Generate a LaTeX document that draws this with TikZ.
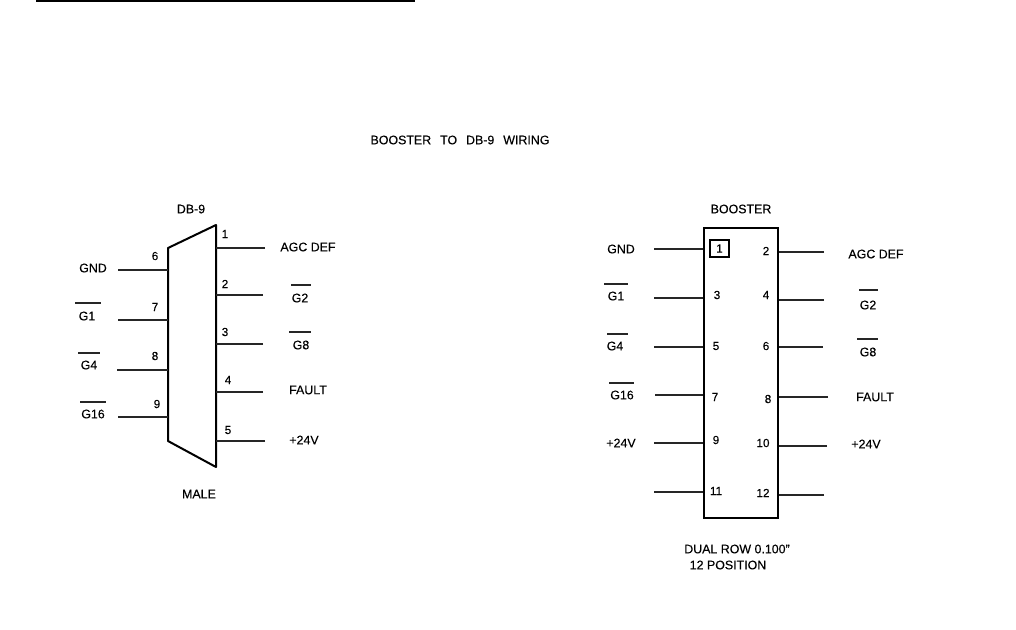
\documentclass[tikz,border=0pt]{standalone}
\usepackage{fontspec}
\setmainfont[FakeBold=0.25]{Liberation Sans}
\tikzset{
  lbl/.style={inner sep=0pt,font=\fontsize{9.3}{10}\selectfont},
  pinno/.style={inner sep=0pt,font=\fontsize{8.8}{10}\selectfont},
  wire/.style={line width=1.1pt,black!85},
  bar/.style={line width=0.9pt,black!85},
  body/.style={line width=1.5pt,black}
}
\begin{document}
\begin{tikzpicture}[x=0.75pt,y=-0.75pt]
  \useasboundingbox (0,0) rectangle (1016,629);

  % Rule at the top
  \coordinate (ruleL) at (36,1);
  \coordinate (ruleR) at (415,1);
  \draw[line width=1.5pt] (ruleL) -- (ruleR);

  % Title
  \node[lbl] (title) at (460,140) {BOOSTER\ \ \,TO\ \ \,DB-9\ \ \,WIRING};

  % DB-9 shell
  \draw[body,line join=round] (168,248) -- (216,225) -- (216,467) -- (168,441) -- cycle;
  \coordinate (dbL) at (168,300);
  \coordinate (dbR) at (216,300);
  \node[lbl] (dbname) at (191,209) {DB-9};
  \node[lbl] (dbmale) at (199,494) {MALE};

  % DB-9 wires
  \foreach \nm/\x/\y/\w in {a6/118/270/1.6pt,a7/118/320/1.2pt,a8/117/370/1.2pt,a9/118/417/1pt}
    \draw[wire,line width=\w] (\x,\y) coordinate (\nm) -- (\nm -| dbL);
  \foreach \nm/\x/\y/\w in {a1/265/248/2pt,a2/263/295/1pt,a3/263/344/1.8pt,a4/263/392/1pt,a5/265/441/1.6pt}
    \draw[wire,line width=\w] (\x,\y) coordinate (\nm) -- (\nm -| dbR);

  % DB-9 pin numbers
  \foreach \t/\x/\y in {6/155/256,7/155/307,8/155/356,9/157/404,1/225/234,2/225/284,3/225/332,4/228/380,5/228/430}
    \node[pinno] (db\t) at (\x,\y) {\t};

  % DB-9 signals
  \node[lbl] (dbgnd) at (93,268) {GND};
  \node[lbl] (dbagc) at (308,247) {AGC DEF};
  \node[lbl] (dbfault) at (308,390) {FAULT};
  \node[lbl] (dbpwr) at (304,440) {+24V};
  \foreach \t/\x/\y/\bl/\br/\by in {G1/87/316/75/101/303,G4/89/365/78/100/353,G16/93/414/80/106/402,G2/300/298/291/311/285,G8/301/345/289/311/332}{
    \node[lbl] (db\t) at (\x,\y) {\t};
    \draw[bar] (\bl,\by) coordinate (dbbar\t) -- (\br,\by);
  }

  % Booster body
  \node[draw,body,minimum width=55.5pt,minimum height=217.5pt,inner sep=0pt] (booster) at (741,373) {};
  \node[lbl] (bname) at (741,209) {BOOSTER};
  \node[lbl] (bdual) at (737,549) {DUAL ROW 0.100''};
  \node[lbl] (bpos) at (728,565) {12 POSITION};

  % Booster wires
  \foreach \nm/\y/\x/\w in {b1/249/654/1.2pt,b3/298/654/1.2pt,b5/347/654/1pt,b7/395/655/1.2pt,b9/443/654/1.5pt,b11/492/654/1pt}
    \draw[wire,line width=\w] (\x,\y) coordinate (\nm) -- (\nm -| booster.west);
  \foreach \nm/\y/\x/\w in {b2/252/824/1.2pt,b4/300/824/1.1pt,b6/347/823/1pt,b8/397/828/1.1pt,b10/446/827/1pt,b12/495/824/1.3pt}
    \draw[wire,line width=\w] (\x,\y) coordinate (\nm) -- (\nm -| booster.east);

  % Booster pin numbers
  \node[pinno,draw,line width=1.2pt,minimum width=14pt,minimum height=12.5pt] (bpin1) at (719.5,248.5) {1};
  \foreach \t/\x/\y in {3/717/295,5/716/346,7/715/397,9/716/440,11/716/491,2/766/251,4/766/295,6/766/346,8/768/399,10/763/443,12/763/493}
    \node[pinno] (bpin\t) at (\x,\y) {\t};

  % Booster signals
  \node[lbl] (bgnd) at (621,249) {GND};
  \node[lbl] (bpwrL) at (621,443) {+24V};
  \node[lbl] (bagc) at (876,254) {AGC DEF};
  \node[lbl] (bfault) at (875,397) {FAULT};
  \node[lbl] (bpwrR) at (866,444) {+24V};
  \foreach \t/\x/\y/\bl/\br/\by in {G1/616/296/604/628/284,G4/615/346/607/628/334,G16/622/395/609/634/383,G2/868/305/859/878/290,G8/868/352/857/878/339}{
    \node[lbl] (b\t) at (\x,\y) {\t};
    \draw[bar] (\bl,\by) coordinate (bbar\t) -- (\br,\by);
  }
\end{tikzpicture}
\end{document}
